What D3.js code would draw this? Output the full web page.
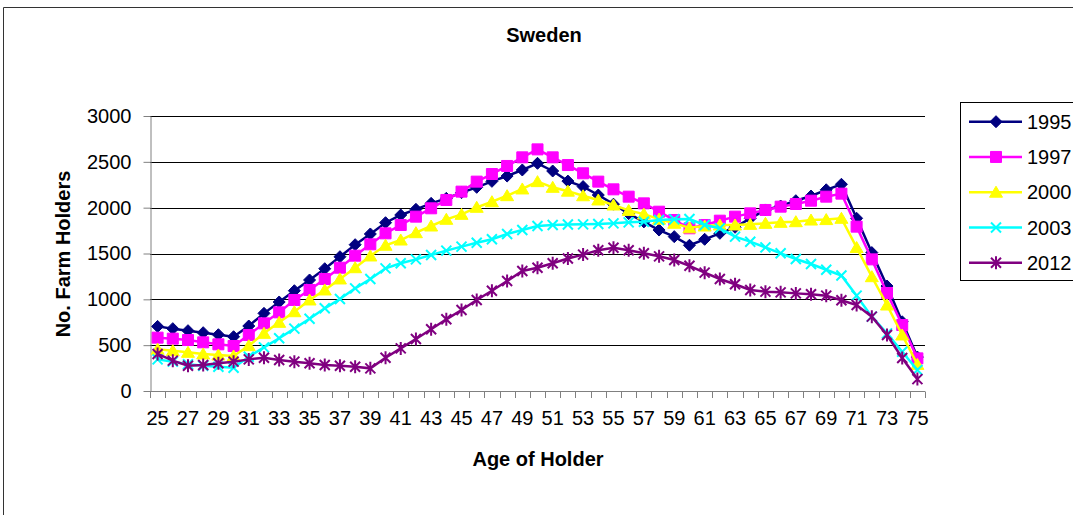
<!DOCTYPE html>
<html>
<head>
<meta charset="utf-8">
<script src="https://cdn.jsdelivr.net/npm/d3@7/dist/d3.min.js"></script>
<style>
  body { margin: 0; background: #fff; }
  svg { display: block; font-family: "Liberation Sans", Arial, sans-serif; }
</style>
</head>
<body>
<div id="chart"></div>
<script>
// age categories
const ages = [25, 26, 27, 28, 29, 30, 31, 32, 33, 34, 35, 36, 37, 38, 39, 40, 41, 42, 43, 44,
  45, 46, 47, 48, 49, 50, 51, 52, 53, 54, 55, 56, 57, 58, 59, 60, 61, 62, 63, 64,
  65, 66, 67, 68, 69, 70, 71, 72, 73, 74, 75];
const ageLabels = [25, 27, 29, 31, 33, 35, 37, 39, 41, 43, 45, 47, 49, 51, 53, 55, 57, 59, 61, 63, 65, 67, 69, 71, 73, 75];
const yTicks = [0, 500, 1000, 1500, 2000, 2500, 3000];

const years = ["1995", "1997", "2000", "2003", "2012"];

const holders1995 = [705, 680, 658, 636, 614, 592, 709, 847, 971, 1094, 1211, 1334, 1465, 1596, 1713, 1836,
  1920, 1982, 2047, 2102, 2164, 2222, 2287, 2345, 2411, 2484, 2400, 2290, 2230, 2138, 2038, 1935,
  1845, 1756, 1684, 1590, 1655, 1720, 1786, 1884, 1975, 2018, 2076, 2127, 2195, 2255, 1884, 1510,
  1145, 755, 370];
const holders1997 = [582, 571, 556, 531, 509, 491, 611, 738, 858, 993, 1102, 1222, 1345, 1476, 1600, 1720,
  1811, 1902, 1993, 2084, 2175, 2284, 2367, 2455, 2549, 2636, 2549, 2465, 2375, 2284, 2200, 2120,
  2047, 1956, 1865, 1775, 1811, 1858, 1902, 1938, 1975, 2011, 2040, 2076, 2120, 2153, 1793, 1436,
  1069, 720, 356];
const holders2000 = [455, 440, 422, 404, 393, 382, 494, 629, 749, 865, 993, 1102, 1222, 1345, 1473, 1590,
  1647, 1727, 1800, 1873, 1927, 2004, 2065, 2131, 2204, 2284, 2222, 2180, 2130, 2084, 2029, 1970,
  1930, 1875, 1830, 1780, 1800, 1811, 1811, 1818, 1829, 1840, 1847, 1865, 1870, 1884, 1565, 1247,
  938, 611, 290];
const holders2003 = [345, 320, 291, 276, 265, 254, 374, 476, 575, 680, 789, 902, 1004, 1120, 1222, 1338,
  1393, 1436, 1484, 1531, 1575, 1618, 1655, 1713, 1756, 1800, 1811, 1816, 1818, 1822, 1829, 1840,
  1847, 1865, 1873, 1876, 1811, 1775, 1684, 1629, 1567, 1502, 1440, 1385, 1323, 1260, 1040, 811,
  629, 429, 229];
const holders2012 = [404, 331, 276, 284, 302, 320, 345, 363, 338, 320, 302, 284, 276, 265, 247, 363,
  465, 567, 673, 782, 884, 993, 1094, 1200, 1309, 1345, 1393, 1445, 1488, 1535, 1562, 1535,
  1502, 1469, 1429, 1366, 1291, 1222, 1164, 1102, 1084, 1076, 1065, 1055, 1040, 990, 938, 811,
  611, 360, 130];

const seriesValues = [holders1995, holders1997, holders2000, holders2003, holders2012];
const colors = ["#000080", "#ff00ff", "#ffff00", "#00ffff", "#800080"];
const shapes = ["diamond", "square", "triangle", "cross", "star"];

const width = 1073, height = 515;

const svg = d3.select("#chart").append("svg")
  .attr("width", width)
  .attr("height", height);

svg.append("rect").attr("width", width).attr("height", height).attr("fill", "#fff");

// outer chart frame (runs off the right and bottom)
svg.append("path")
  .attr("d", `M3.5,${height}V7.5H${width}`)
  .attr("fill", "none")
  .attr("stroke", "#333");

const x = d3.scaleBand().domain(ages).range([150, 925]);
const y = d3.scaleLinear().domain([0, 3000]).range([391, 116]);
const cx = a => x(a) + x.bandwidth() / 2;

// gridlines
svg.append("g")
  .selectAll("line")
  .data(yTicks.filter(d => d > 0))
  .join("line")
  .attr("x1", 150).attr("x2", 925)
  .attr("y1", d => Math.round(y(d)) + 0.5)
  .attr("y2", d => Math.round(y(d)) + 0.5)
  .attr("stroke", "#000");

// y axis
const yAxis = svg.append("g")
  .attr("transform", "translate(150.5,0)")
  .call(d3.axisLeft(y).tickValues(yTicks).tickFormat(d3.format("d"))
    .tickSize(7).tickSizeOuter(0).tickPadding(12));
yAxis.select(".domain").attr("stroke", "#808080");
yAxis.selectAll(".tick line").attr("stroke", "#808080");
yAxis.selectAll("text").attr("font-size", 20).attr("fill", "#000")
  .attr("font-family", "Liberation Sans, Arial, sans-serif");

// x axis: labels at category centres, ticks between categories
const xAxis = svg.append("g")
  .attr("transform", "translate(0,391.5)")
  .call(d3.axisBottom(x).tickValues(ageLabels).tickSize(0).tickSizeOuter(0).tickPadding(19));
xAxis.select(".domain").remove();
xAxis.selectAll("text").attr("font-size", 20).attr("fill", "#000")
  .attr("font-family", "Liberation Sans, Arial, sans-serif");

svg.append("line")
  .attr("x1", 150).attr("x2", 925)
  .attr("y1", 391.5).attr("y2", 391.5)
  .attr("stroke", "#808080");

svg.append("g")
  .selectAll("line")
  .data(ages.map(a => x(a)).concat([x(ages[ages.length - 1]) + x.bandwidth()]))
  .join("line")
  .attr("x1", d => Math.round(d) + 0.5).attr("x2", d => Math.round(d) + 0.5)
  .attr("y1", 391.5).attr("y2", 398)
  .attr("stroke", "#808080");

// marker shapes
function markerPath(shape) {
  switch (shape) {
    case "diamond": return "M0,-6L6,0L0,6L-6,0Z";
    case "square": return "M-5.5,-5.5h11v11h-11Z";
    case "triangle": return "M0,-6L6.5,5L-6.5,5Z";
    case "cross": return "M-5,-5L5,5M5,-5L-5,5";
    default: return "M-5,-5L5,5M5,-5L-5,5M0,-6.5V6.5";
  }
}
function drawMarker(g, shape, color) {
  const filled = shape === "diamond" || shape === "square" || shape === "triangle";
  g.append("path")
    .attr("d", markerPath(shape))
    .attr("fill", filled ? color : "none")
    .attr("stroke", color)
    .attr("stroke-width", filled ? 1 : 2);
}

const line = d3.line().x((d, i) => cx(ages[i])).y(d => y(d));

seriesValues.forEach((vals, s) => {
  const g = svg.append("g");
  g.append("path")
    .datum(vals)
    .attr("d", line)
    .attr("fill", "none")
    .attr("stroke", colors[s])
    .attr("stroke-width", 2.5);
  g.selectAll("g.m")
    .data(vals)
    .join("g")
    .attr("class", "m")
    .attr("transform", (d, i) => `translate(${cx(ages[i])},${y(d)})`)
    .each(function () { drawMarker(d3.select(this), shapes[s], colors[s]); });
});

// titles
svg.append("text")
  .attr("x", 544).attr("y", 42)
  .attr("text-anchor", "middle")
  .attr("font-size", 20).attr("font-weight", "bold")
  .text("Sweden");

svg.append("text")
  .attr("x", 538).attr("y", 466)
  .attr("text-anchor", "middle")
  .attr("font-size", 20).attr("font-weight", "bold")
  .text("Age of Holder");

svg.append("text")
  .attr("transform", "translate(70,254) rotate(-90)")
  .attr("text-anchor", "middle")
  .attr("font-size", 20).attr("font-weight", "bold")
  .text("No. Farm Holders");

// legend
const legend = svg.append("g");
legend.append("rect")
  .attr("x", 960.5).attr("y", 102.5)
  .attr("width", 130).attr("height", 178)
  .attr("fill", "#fff").attr("stroke", "#000");

years.forEach((yr, i) => {
  const ly = 121.7 + i * 35.25;
  const item = legend.append("g");
  item.append("line")
    .attr("x1", 969).attr("x2", 1022)
    .attr("y1", ly).attr("y2", ly)
    .attr("stroke", colors[i]).attr("stroke-width", 2.5);
  drawMarker(item.append("g").attr("transform", `translate(996,${ly})`), shapes[i], colors[i]);
  item.append("text")
    .attr("x", 1027).attr("y", ly).attr("dy", "0.36em")
    .attr("font-size", 20)
    .text(yr);
});
</script>
</body>
</html>
